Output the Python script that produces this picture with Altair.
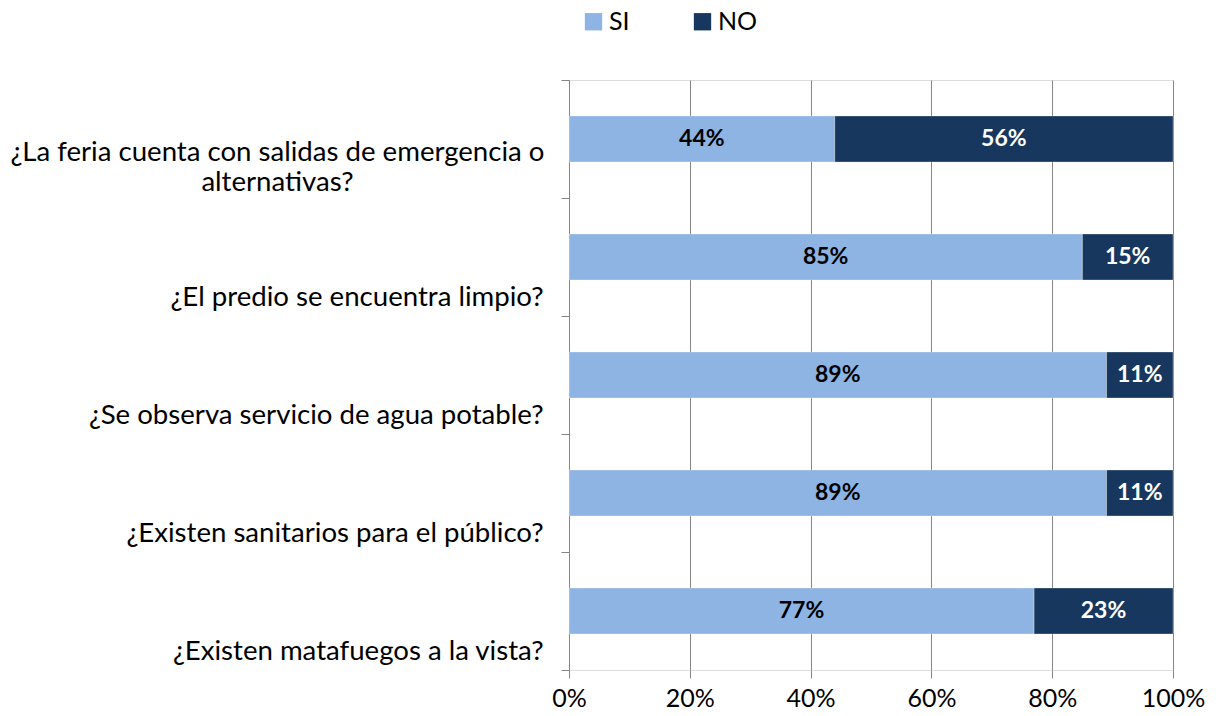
import altair as alt
import pandas as pd

questions = [
    "¿La feria cuenta con salidas de emergencia o|alternativas?",
    "¿El predio se encuentra limpio?",
    "¿Se observa servicio de agua potable?",
    "¿Existen sanitarios para el público?",
    "¿Existen matafuegos a la vista?",
]
si_values = [44, 85, 89, 89, 77]
no_values = [56, 15, 11, 11, 23]
series = ["SI", "NO"]
colors = ["#8EB4E3", "#17375E"]
x_ticks = [0, 20, 40, 60, 80, 100]

rows = []
for q, s, n in zip(questions, si_values, no_values):
    rows.append({"q": q, "serie": "SI", "orden": 0, "valor": s})
    rows.append({"q": q, "serie": "NO", "orden": 1, "valor": n})
df = pd.DataFrame(rows)

FONT = "Lato"
MULTI = "indexof(datum.label, '|') >= 0"

y_enc = alt.Y(
    "q:N",
    sort=questions,
    title=None,
    scale=alt.Scale(paddingInner=0, paddingOuter=0),
    axis=alt.Axis(
        labelExpr="split(datum.label, '|')",
        labelFont=FONT,
        labelFontSize=27.6,
        labelColor="#000000",
        labelLimit=700,
        labelAlign={"condition": {"test": MULTI, "value": "center"}, "value": "right"},
        labelPadding={"condition": {"test": MULTI, "value": 284}, "value": 18},
        labelLineHeight=30,
        labelOffset={"condition": {"test": MULTI, "value": 13}, "value": 40},
        tickBand="extent",
        tickSize=8,
        tickColor="#868686",
        domainColor="#868686",
        grid=False,
    ),
)

base = alt.Chart(df).transform_stack(
    stack="valor", groupby=["q"], as_=["x0", "x1"], sort=[alt.SortField("orden")]
).transform_calculate(
    mid="(datum.x0 + datum.x1) / 2",
    etiqueta="datum.valor + '%'",
)

bars = base.mark_bar(
    height=alt.RelativeBandSize(0.39), stroke="#ffffff", strokeWidth=0.5, strokeOpacity=0.6
).encode(
    y=y_enc,
    x=alt.X(
        "x0:Q",
        title=None,
        scale=alt.Scale(domain=[0, 100], nice=False),
        axis=alt.Axis(
            values=x_ticks,
            labelExpr="datum.value + '%'",
            labelFont=FONT,
            labelFontSize=25,
            labelColor="#000000",
            labelPadding=8,
            labelFlush=False,
            tickSize=8,
            tickColor="#868686",
            gridColor="#868686",
            domain=False,
            grid=True,
        ),
    ),
    x2="x1:Q",
    color=alt.Color(
        "serie:N",
        sort=series,
        scale=alt.Scale(domain=series, range=colors),
        legend=alt.Legend(
            title=None,
            orient="none",
            legendX=12,
            legendY=-71,
            direction="horizontal",
            symbolType="square",
            symbolSize=300,
            symbolStrokeWidth=0,
            labelFont=FONT,
            labelFontSize=25,
            labelColor="#000000",
            columnPadding=60,
            labelOffset=3,
        ),
    ),
    order=alt.Order("orden:Q"),
)

texts = base.mark_text(font=FONT, fontSize=23, fontWeight="bold").encode(
    y=alt.Y("q:N", sort=questions),
    x=alt.X("mid:Q"),
    text="etiqueta:N",
    color=alt.Color(
        "serie:N",
        scale=alt.Scale(domain=series, range=["#000000", "#ffffff"]),
        legend=None,
    ),
)

chart = (
    alt.layer(bars, texts)
    .resolve_scale(color="independent")
    .properties(
        width=604,
        height=590,
        autosize=alt.AutoSizeParams(type="none"),
        padding={"left": 569, "top": 80, "right": 43, "bottom": 46},
    )
    .configure_view(stroke=None)
    .configure(background="#ffffff")
)

chart.save("out.html", embed_options={"renderer": "svg", "actions": False})
